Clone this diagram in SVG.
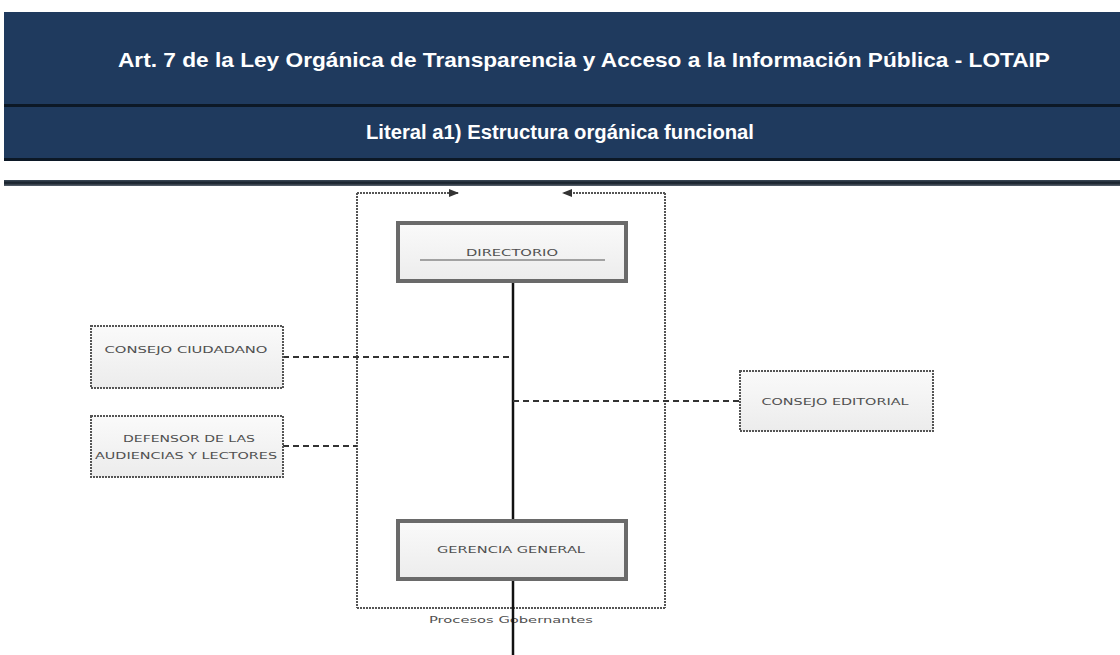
<svg xmlns="http://www.w3.org/2000/svg" width="1120" height="655" viewBox="0 0 1120 655">
<defs>
<style>
.hdr{font-family:"Liberation Sans",Arial,sans-serif;font-weight:bold;fill:#ffffff;text-anchor:middle}
.lbl{font-family:"DejaVu Sans",Verdana,sans-serif;font-size:9.5px;fill:#505050;text-anchor:middle}
.main{fill:url(#boxg);stroke:#6a6a6a;stroke-width:4}
.aux{fill:url(#boxg);stroke:#555;stroke-width:2;stroke-dasharray:2 1}
.frame{fill:none;stroke:#555;stroke-width:2;stroke-dasharray:2 1}
.dash{fill:none;stroke:#333;stroke-width:2;stroke-dasharray:6 4}
.solid{fill:none;stroke:#111;stroke-width:2.5}
</style>
<linearGradient id="boxg" x1="0" y1="0" x2="0" y2="1">
<stop offset="0" stop-color="#fafafa"/>
<stop offset="1" stop-color="#ececec"/>
</linearGradient>
<linearGradient id="barg" x1="0" y1="0" x2="0" y2="1">
<stop offset="0" stop-color="#3c4a58"/>
<stop offset="0.5" stop-color="#141e28"/>
<stop offset="1" stop-color="#5a6470"/>
</linearGradient>
<marker id="ah" viewBox="0 0 10 10" refX="9" refY="5" markerWidth="5" markerHeight="5" orient="auto">
<path d="M0,1 L10,5 L0,9 z" fill="#333"/>
</marker>
</defs>
<rect width="1120" height="655" fill="#ffffff"/>
<g id="header">
<rect x="4" y="12" width="1116" height="147" fill="#1f3a5e"/>
<rect x="4" y="104" width="1116" height="3" fill="#0c1826"/>
<rect x="4" y="158" width="1116" height="3" fill="#0c1826"/>
<rect x="4" y="180" width="1116" height="6" fill="url(#barg)"/>
<text class="hdr" x="584" y="67" font-size="20" textLength="932" lengthAdjust="spacingAndGlyphs">Art. 7 de la Ley Orgánica de Transparencia y Acceso a la Información Pública - LOTAIP</text>
<text class="hdr" x="560" y="139" font-size="20" textLength="388" lengthAdjust="spacingAndGlyphs">Literal a1) Estructura orgánica funcional</text>
</g>
<g id="frame">
<line class="frame" x1="357" y1="193" x2="357" y2="608"/>
<line class="frame" x1="665" y1="193" x2="665" y2="608"/>
<line class="frame" x1="357" y1="608" x2="665" y2="608"/>
<line class="frame" x1="357" y1="193" x2="458" y2="193" marker-end="url(#ah)"/>
<line class="frame" x1="665" y1="193" x2="563" y2="193" marker-end="url(#ah)"/>
<text class="lbl" x="511" y="623" font-size="10.5" fill="#666" textLength="164" lengthAdjust="spacingAndGlyphs">Procesos Gobernantes</text>
</g>
<g id="connectors">
<line class="solid" x1="513" y1="283" x2="513" y2="520"/>
<line class="solid" x1="513" y1="580" x2="513" y2="655" stroke-width="3"/>
<line class="dash" x1="283" y1="357" x2="513" y2="357"/>
<line class="dash" x1="283" y1="446" x2="357" y2="446"/>
<line class="dash" x1="513" y1="401" x2="740" y2="401"/>
</g>
<g id="directorio">
<rect class="main" x="398" y="223" width="228" height="58"/>
<text class="lbl" x="512" y="256" textLength="92" lengthAdjust="spacingAndGlyphs">DIRECTORIO</text>
<line x1="420" y1="260" x2="605" y2="260" stroke="#555" stroke-width="1.2"/>
</g>
<g id="consejo-ciudadano">
<rect class="aux" x="91" y="326" width="192" height="62"/>
<text class="lbl" x="186" y="353" textLength="163" lengthAdjust="spacingAndGlyphs">CONSEJO CIUDADANO</text>
</g>
<g id="defensor">
<rect class="aux" x="91" y="416" width="192" height="61"/>
<text class="lbl" x="189" y="442" textLength="132" lengthAdjust="spacingAndGlyphs">DEFENSOR DE LAS</text>
<text class="lbl" x="186" y="459" textLength="182" lengthAdjust="spacingAndGlyphs">AUDIENCIAS Y LECTORES</text>
</g>
<g id="consejo-editorial">
<rect class="aux" x="740" y="371" width="193" height="60"/>
<text class="lbl" x="835" y="405" textLength="147" lengthAdjust="spacingAndGlyphs">CONSEJO EDITORIAL</text>
</g>
<g id="gerencia">
<rect class="main" x="398" y="521" width="228" height="58"/>
<text class="lbl" x="511" y="553" textLength="148" lengthAdjust="spacingAndGlyphs">GERENCIA GENERAL</text>
</g>
</svg>
